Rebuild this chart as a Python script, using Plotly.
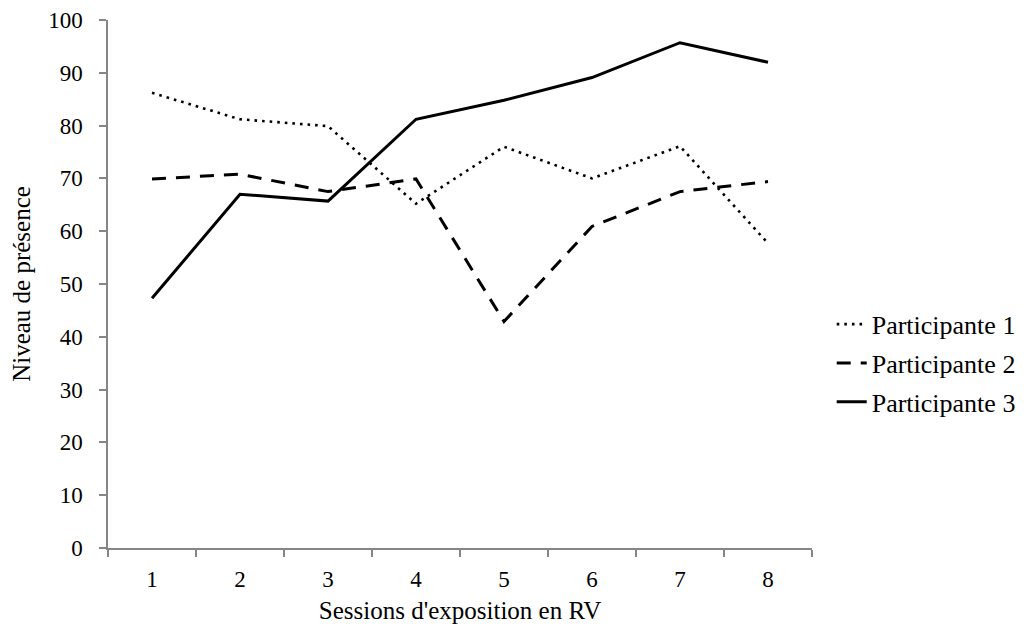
import plotly.graph_objects as go

sessions = ["1", "2", "3", "4", "5", "6", "7", "8"]
participante_1 = [86.2, 81.2, 79.9, 65.2, 76.0, 70.0, 76.1, 57.7]
participante_2 = [69.9, 70.8, 67.5, 69.9, 42.9, 60.9, 67.5, 69.4]
participante_3 = [47.3, 67.0, 65.7, 81.2, 84.8, 89.1, 95.7, 92.0]
series_names = ["Participante 1", "Participante 2", "Participante 3"]
y_ticks = [0, 10, 20, 30, 40, 50, 60, 70, 80, 90, 100]

FONT = "Liberation Serif, Times New Roman, serif"
AXIS_COLOR = "#868686"
TICK_FS = 23
TITLE_FS = 25
LEG_FS = 26

fig = go.Figure()
styles = [
    dict(width=2.6, dash="2.6px,5px"),
    dict(width=3, dash="14px,10px"),
    dict(width=3, dash="solid"),
]
for name, vals, st in zip(series_names, [participante_1, participante_2, participante_3], styles):
    fig.add_trace(go.Scatter(
        x=sessions, y=vals, name=name, mode="lines",
        line=dict(color="black", width=st["width"], dash=st["dash"]),
        legendgroup=name,
    ))

fig.update_layout(
    width=1022, height=626,
    margin=dict(l=100, r=218, t=12, b=86, autoexpand=False),
    paper_bgcolor="white", plot_bgcolor="white",
    font=dict(family=FONT, size=TICK_FS, color="black"),
    showlegend=True,
    legend=dict(
        x=1.028, xanchor="left", y=0.35, yanchor="middle",
        font=dict(family=FONT, size=LEG_FS, color="black"),
        tracegroupgap=2, bgcolor="rgba(0,0,0,0)",
    ),
    xaxis=dict(
        type="category", tickson="boundaries", range=[-0.5, 7.5],
        ticks="outside", ticklen=7, automargin=False,
        tickcolor=AXIS_COLOR, tickwidth=1.5,
        showline=True, linecolor=AXIS_COLOR, linewidth=1.5,
        showgrid=False, zeroline=False, ticklabelstandoff=10,
        tickfont=dict(family=FONT, size=TICK_FS, color="black"),
        title=dict(text="Sessions d'exposition en RV", font=dict(family=FONT, size=TITLE_FS, color="black"), standoff=10),
    ),
    yaxis=dict(
        range=[0, 100], tickvals=y_ticks, ticks="outside", ticklen=7, automargin=False,
        tickcolor=AXIS_COLOR, tickwidth=1.5,
        showline=True, linecolor=AXIS_COLOR, linewidth=1.5,
        showgrid=False, zeroline=False, ticklabelstandoff=12,
        tickfont=dict(family=FONT, size=TICK_FS, color="black"),
        title=dict(text="Niveau de présence", font=dict(family=FONT, size=TITLE_FS, color="black"), standoff=12),
    ),
)

fig.write_html("out.html")
